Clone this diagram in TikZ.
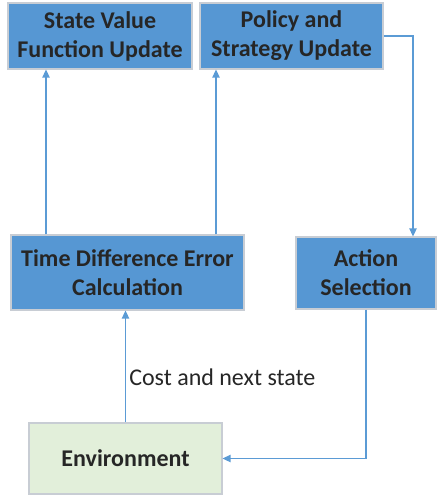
\documentclass[tikz,border=0pt]{standalone}
\usepackage{fontspec}
\setmainfont{Carlito}
\usetikzlibrary{arrows.meta}

\definecolor{boxblue}{RGB}{86,151,211}
\definecolor{boxedge}{RGB}{200,205,212}
\definecolor{envgreen}{RGB}{226,239,218}
\definecolor{lineblue}{RGB}{91,155,213}
\definecolor{txt}{RGB}{38,38,38}

\tikzset{
  blockbox/.style={draw=boxedge, line width=0.8pt, fill=boxblue, align=center, inner sep=0pt,
    text=txt, font=\fontsize{18}{21.75}\selectfont\bfseries},
  envbox/.style={draw=boxedge, line width=0.8pt, fill=envgreen, align=center, inner sep=0pt,
    text=txt, font=\fontsize{18}{21.75}\selectfont\bfseries},
  flow/.style={draw=lineblue, line width=0.9pt, -{Triangle[length=6pt,width=5.5pt]}, color=lineblue}
}

\begin{document}
\begin{tikzpicture}[x=0.75pt,y=0.75pt,yscale=-1,xscale=1]
\useasboundingbox (0,0) rectangle (438,502);

% Boxes
\node [blockbox, minimum width=138pt, minimum height=49.5pt] (sv) at (100,36) {State Value\\Function Update};
\node [blockbox, minimum width=137.25pt, minimum height=49.5pt] (ps) at (291.5,36) {Policy and\\Strategy Update};
\node [blockbox, minimum width=174.75pt, minimum height=56.25pt] (tde) at (127.5,272.5) {Time Difference Error\\Calculation};
\node [blockbox, minimum width=105pt, minimum height=54pt] (act) at (366,273) {Action\\Selection};
\node [envbox, minimum width=144.75pt, minimum height=53.25pt] (env) at (125.5,458.5) {Environment};

% Columns for the connectors
\coordinate (c1) at (46,0);
\coordinate (c2) at (216,0);
\coordinate (c3) at (413,0);

% Connectors
\draw [flow] (tde.north -| c1) -- (sv.south -| c1);
\draw [flow] (tde.north -| c2) -- (ps.south -| c2);
\draw [flow] (ps.east) -| (c3 |- act.north);
\draw [flow] (act.south) |- (env.east);
\draw [flow] (env.north) -- (env.north |- tde.south);

% Text Node
\node [anchor=west, inner sep=0.75pt, text=txt, font=\fontsize{18}{21}\selectfont] (cost) at (128,377) {Cost and next state};

\end{tikzpicture}
\end{document}
